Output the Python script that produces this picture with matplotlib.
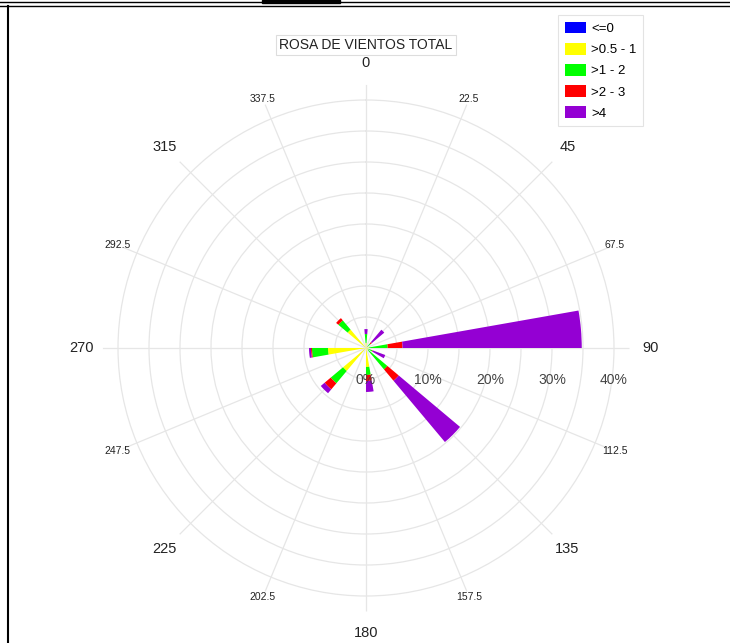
import numpy as np
import matplotlib
matplotlib.use("Agg")
from matplotlib import pyplot as plt
from matplotlib import transforms
from matplotlib.lines import Line2D
from matplotlib.patches import Rectangle

plt.rcParams['font.family'] = ['Liberation Sans', 'DejaVu Sans']

# direcciones (grados) y frecuencias (%) por clase de velocidad
directions = [0, 45, 85, 115, 135, 175, 225, 265, 315]
classes = ['<=0', '>0.5 - 1', '>1 - 2', '>2 - 3', '>4']
colors = ['#0000ff', '#ffff00', '#00ff00', '#ff0000', '#9400d3']
freq_le0 = [0, 0, 0, 0, 0, 0, 0, 0, 0]
freq_05_1 = [0.8, 0.3, 0.5, 0.3, 0.5, 3.06, 4.84, 6.13, 3.87]
freq_1_2 = [1.45, 0.65, 3.0, 0.8, 4.0, 1.29, 2.58, 2.58, 1.94]
freq_2_3 = [0.0, 0.3, 2.4, 0.1, 2.4, 0.97, 1.29, 0.16, 0.48]
freq_gt4 = [0.8, 2.6, 28.9, 2.1, 12.9, 1.77, 0.81, 0.32, 0.0]

major_angles = [0, 45, 90, 135, 180, 225, 270, 315]
minor_angles = [22.5, 67.5, 112.5, 157.5, 202.5, 247.5, 292.5, 337.5]
r_ticks = [0, 5, 10, 15, 20, 25, 30, 35, 40]
r_labels = [0, 10, 20, 30, 40]

W, H = 730, 643
cx, cy, rad = 366, 348, 263.5
fig = plt.figure(figsize=(W / 100, H / 100), dpi=100)
ax = fig.add_axes([(cx - rad) / W, (H - cy - rad) / H, 2 * rad / W, 2 * rad / H],
                  projection='polar')
ax.set_theta_zero_location('N')
ax.set_theta_direction(-1)
ax.set_axisbelow(True)

theta = np.deg2rad(directions)
width = np.deg2rad(10)
bottom = np.zeros(len(directions))
handles = []
for name, col, vals in zip(classes, colors,
                           [freq_le0, freq_05_1, freq_1_2, freq_2_3, freq_gt4]):
    vals = np.array(vals)
    b = ax.bar(theta, vals, width=width, bottom=bottom, color=col,
               edgecolor='none', label=name, zorder=3)
    handles.append(b)
    bottom += vals

ax.set_ylim(0, 42.5)
ax.set_yticks(r_ticks)
ax.set_yticklabels([])
ax.tick_params(axis='y', length=0)

ax.set_xticks(np.deg2rad(major_angles))
ax.set_xticklabels([str(a) for a in major_angles])
ax.set_xticks(np.deg2rad(minor_angles), minor=True)
ax.set_xticklabels([str(a) for a in minor_angles], minor=True)
ax.tick_params(axis='x', which='major', length=0, pad=8.3, labelsize=10.5,
               labelcolor='#222222')
ax.tick_params(axis='x', which='minor', length=0, pad=-2.9, labelsize=7.5,
               labelcolor='#222222')

grid_kw = dict(color='#e6e6e6', linewidth=0.9)
ax.yaxis.grid(True, **grid_kw)
ax.xaxis.grid(True, which='major', **grid_kw)
ax.xaxis.grid(True, which='minor', **grid_kw)
ax.spines['polar'].set_visible(False)

# etiquetas radiales en fila bajo el eje de 90
shift = transforms.ScaledTranslation(0, -0.32, fig.dpi_scale_trans)
for r in r_labels:
    ax.text(np.deg2rad(90), r, f'{r}%', transform=ax.transData + shift,
            ha='center', va='center', fontsize=10, color='#444444', zorder=4)

fig.text(cx / W, 1 - 45 / H, 'ROSA DE VIENTOS TOTAL', ha='center', va='center',
         fontsize=10, color='#222222',
         bbox=dict(boxstyle='square,pad=0.25', fc='white', ec='#dddddd', lw=0.8))

leg = fig.legend(handles=handles, loc='upper right',
                 bbox_to_anchor=(643 / W, 1 - 15 / H), borderaxespad=0,
                 fontsize=9.5, handlelength=1.6, handleheight=1.0,
                 handletextpad=0.4, labelspacing=0.59, fancybox=False,
                 edgecolor='#dddddd', borderpad=0.5)
leg.get_frame().set_linewidth(0.8)

# marco de la captura
for yy in [2, 5.5]:
    fig.add_artist(Line2D([0, 1], [1 - yy / H] * 2, transform=fig.transFigure,
                          color='black', lw=1.0))
fig.add_artist(Line2D([8 / W] * 2, [0, 1 - 5.5 / H], transform=fig.transFigure,
                      color='black', lw=1.5))
fig.add_artist(Rectangle((262 / W, 1 - 3 / H), 78 / W, 3 / H,
                         transform=fig.transFigure, color='black'))

fig.savefig('out.png', dpi=100)
